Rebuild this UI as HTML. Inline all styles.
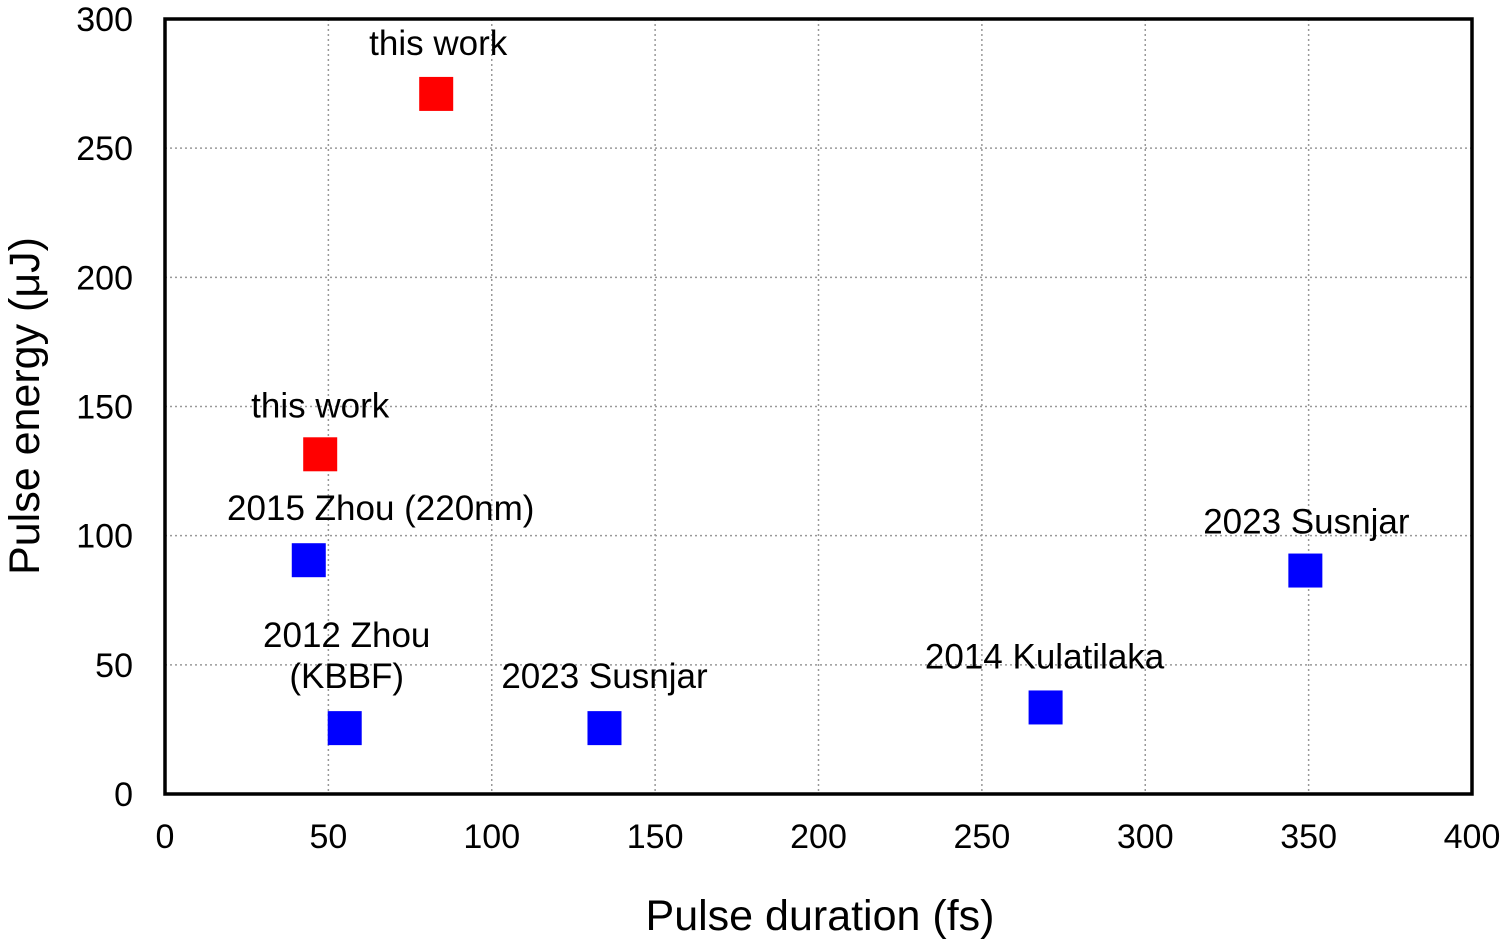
<!DOCTYPE html>
<html><head><meta charset="utf-8"><style>
body{margin:0;background:#fff}
svg{display:block;font-family:"Liberation Sans",Arial,sans-serif}
</style></head><body>
<svg id="chart" width="1501" height="944"></svg>
<script>
const xTicks=[0,50,100,150,200,250,300,350,400];
const yTicks=[0,50,100,150,200,250,300];
const xVals=[83,47.5,44,55,134.5,269.5,349];
const yVals=[271,131.5,90.5,25.5,25.5,33.5,86.5];
const colors=['#ff0000','#ff0000','#0000ff','#0000ff','#0000ff','#0000ff','#0000ff'];
const labels=[['this work'],['this work'],['2015 Zhou (220nm)'],['2012 Zhou','(KBBF)'],['2023 Susnjar'],['2014 Kulatilaka'],['2023 Susnjar']];
const labelDy=[-50,-48,-51,-92,-51,-50,-48];
const labelDx=[2,0,72,2,0,-1,1];
const L=165,R=1472,T=19,B=794;
const sx=v=>L+(R-L)*v/400, sy=v=>B-(B-T)*v/300;
const svg=document.getElementById('chart');
const NS='http://www.w3.org/2000/svg';
function mk(t,a,p){const e=document.createElementNS(NS,t);for(const k in a)e.setAttribute(k,a[k]);(p||svg).appendChild(e);return e;}
xTicks.forEach(v=>{
 if(v>0&&v<400){const g=mk('line',{x1:sx(v),x2:sx(v),y1:T,y2:B,stroke:'#999','stroke-width':1.5,'stroke-dasharray':'2 3'});
 
 }
 const t=mk('text',{x:sx(v),y:848,'font-size':34,'text-anchor':'middle'});t.textContent=v;
 
 
});
yTicks.forEach(v=>{
 if(v>0&&v<300){const g=mk('line',{x1:L,x2:R,y1:sy(v),y2:sy(v),stroke:'#999','stroke-width':1.5,'stroke-dasharray':'2 3'});
 
 }
 const t=mk('text',{x:133,y:sy(v)+12,'font-size':34,'text-anchor':'end'});t.textContent=v;
 
 
});
const fr=mk('rect',{x:L,y:T,width:R-L,height:B-T,fill:'none',stroke:'#000','stroke-width':3.5});


xVals.forEach((v,i)=>{
 const cx=sx(v),cy=sy(yVals[i]);
 const r=mk('rect',{x:cx-17,y:cy-17,width:34,height:34,fill:colors[i]});
 
 
 labels[i].forEach((s,j)=>{
  const t=mk('text',{x:cx+labelDx[i],y:cy+labelDy[i]+j*41+11,'font-size':35,'text-anchor':'middle'});t.textContent=s;
  
  
 });
});
const xt=mk('text',{x:820,y:930,'font-size':43,'text-anchor':'middle'});xt.textContent='Pulse duration (fs)';


const yt=mk('text',{x:0,y:0,'font-size':43,'text-anchor':'middle',transform:'translate(39,406) rotate(-90)'});yt.textContent='Pulse energy (μJ)';


</script>
</body></html>
